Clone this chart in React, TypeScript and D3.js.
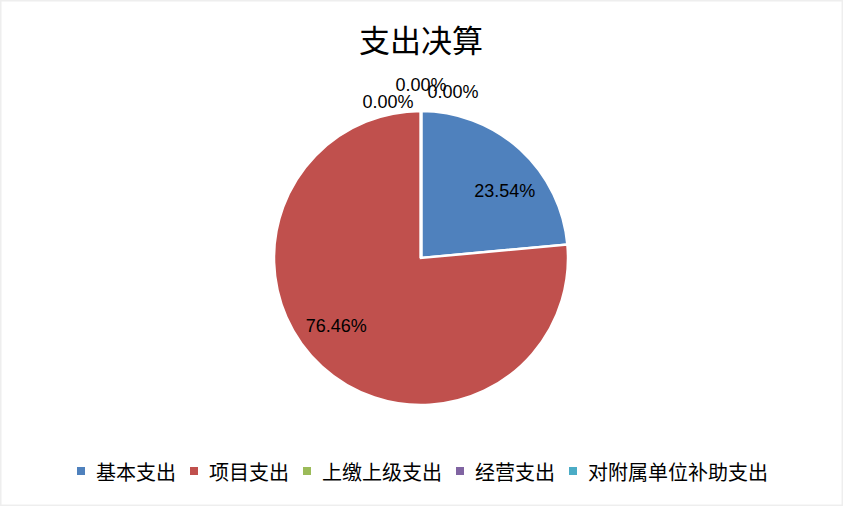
import React from "react";
import * as d3 from "d3";

const title = "支出决算";
const categories = ["基本支出", "项目支出", "上缴上级支出", "经营支出", "对附属单位补助支出"];
const values = [23.54, 76.46, 0, 0, 0];
const colors = ["#4F81BD", "#C0504D", "#9BBB59", "#8064A2", "#4BACC6"];
// label nudges (styling only)
const labelNudge: [number, number][] = [
  [11, 13],
  [-12, -12],
  [-33, 1],
  [0, -16],
  [32, -9],
];

const W = 843;
const H = 506;
const cx = 421;
const cy = 258;
const R = 147;

export default function App() {
  const pie = d3.pie<number>().sort(null).value((d) => d)(values);
  const arc = d3.arc<d3.PieArcDatum<number>>().innerRadius(0).outerRadius(R);
  const total = d3.sum(values);

  const cjk = "'Noto Sans CJK SC', 'Noto Sans', sans-serif";
  const num = "'Liberation Sans', Arial, sans-serif";

  const legendFs = 20;
  const sq = 8;
  const sqGap = 11;
  const itemGap = 14;
  const widths = categories.map((c) => sq + sqGap + c.length * legendFs);
  const totalW = d3.sum(widths) + itemGap * (categories.length - 1);
  let lx = (W - totalW) / 2 + 1;
  const legendY = 471;
  const legendItems = categories.map((c, i) => {
    const x = lx;
    lx += widths[i] + itemGap;
    return { c, x, color: colors[i] };
  });

  return (
    <div style={{ position: "fixed", left: 0, top: 0 }}>
      <svg width={W} height={H} style={{ display: "block", background: "#fff" }}>
        <rect x={0.75} y={0.75} width={W - 1.5} height={H - 1.5} fill="#fff" stroke="#eeeeee" strokeWidth={1.5} />
        <text
          x={cx}
          y={38}
          textAnchor="middle"
          dominantBaseline="central"
          fontFamily={cjk}
          fontSize={31}
          fill="#000"
        >
          {title}
        </text>
        <g transform={`translate(${cx},${cy})`}>
          {pie.map((p, i) => (
            <path key={i} d={arc(p) || ""} fill={colors[i]} stroke="#fff" strokeWidth={2.5} strokeLinejoin="miter" />
          ))}
          {pie.map((p, i) => {
            const mid = (p.startAngle + p.endAngle) / 2;
            const rr = p.value > 0 ? 108 : R + 10;
            const x = Math.sin(mid) * rr + labelNudge[i][0];
            const y = -Math.cos(mid) * rr + labelNudge[i][1];
            const pct = ((p.value / total) * 100).toFixed(2) + "%";
            return (
              <text
                key={"l" + i}
                x={x}
                y={y}
                textAnchor="middle"
                dominantBaseline="central"
                fontFamily={num}
                fontSize={18}
                fill="#000"
              >
                {pct}
              </text>
            );
          })}
        </g>
        <g>
          {legendItems.map((it, i) => (
            <g key={i}>
              <rect x={it.x} y={legendY - sq / 2} width={sq} height={sq} fill={it.color} />
              <text
                x={it.x + sq + sqGap}
                y={legendY}
                dominantBaseline="central"
                fontFamily={cjk}
                fontSize={legendFs}
                fill="#000"
              >
                {it.c}
              </text>
            </g>
          ))}
        </g>
      </svg>
    </div>
  );
}
